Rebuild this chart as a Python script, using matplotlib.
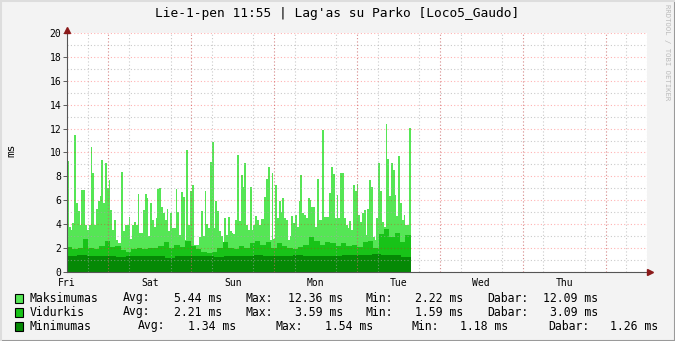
import numpy as np
import matplotlib.pyplot as plt
from matplotlib.patches import Rectangle
from matplotlib.lines import Line2D

# RRDtool-style latency graph
days = ['Fri', 'Sat', 'Sun', 'Mon', 'Tue', 'Wed', 'Thu']
data_days = 4.15  # samples run from Fri 00:00 to early Tue

# max latency (ms), one value per ~30 min sample
maks = [9.3, 3.8, 3.5, 4.1, 11.5, 5.75, 5.1, 3.9, 6.9, 6.9, 3.9, 3.5, 3.9, 10.5, 8.3, 3.9, 5.3,
        5.9, 6.4, 9.4, 5.75, 9.1, 7.0, 7.7, 5.2, 3.5, 4.35, 2.7, 2.4, 2.4, 8.4, 3.4, 3.9, 3.9,
        4.6, 2.8, 3.9, 4.15, 3.9, 6.5, 3.3, 3.3, 5.2, 6.5, 6.2, 3.0, 5.8, 4.35, 3.8, 4.5, 6.95,
        7.05, 5.4, 4.9, 4.35, 5.3, 3.4, 4.9, 3.65, 3.65, 6.95, 5.0, 3.1, 6.7, 6.3, 2.7, 10.2, 3.9,
        6.8, 7.3, 2.3, 2.22, 2.3, 2.9, 5.1, 3.0, 6.8, 4.0, 3.65, 9.2, 10.9, 3.65, 5.9, 5.1, 3.4,
        3.0, 2.5, 4.5, 3.1, 4.6, 3.4, 3.3, 3.15, 4.35, 9.8, 4.3, 8.1, 7.1, 9.1, 3.9, 3.5, 7.1, 3.5,
        3.9, 4.7, 4.35, 3.9, 4.4, 4.4, 6.3, 7.8, 8.8, 2.7, 8.3, 2.8, 7.3, 4.5, 5.9, 5.0, 6.2, 4.5,
        4.35, 2.7, 3.0, 4.7, 4.1, 4.8, 3.8, 5.9, 8.1, 4.9, 4.8, 4.55, 6.2, 6.0, 5.4, 5.4, 3.8, 7.8,
        4.35, 4.35, 11.9, 4.6, 4.6, 4.6, 6.6, 8.8, 8.2, 4.5, 6.45, 4.5, 8.3, 8.3, 4.55, 3.9, 3.65,
        4.3, 3.5, 7.3, 6.8, 7.35, 4.8, 4.2, 4.9, 5.2, 3.1, 5.3, 7.7, 7.1, 2.9, 2.7, 4.5, 9.1, 6.8,
        4.2, 3.8, 12.36, 9.45, 6.35, 9.1, 8.55, 6.45, 4.7, 9.7, 5.75, 4.35, 4.8, 3.9, 3.9, 12.09]

# average latency (coarser reading)
vidurkis = [2.1, 1.9, 2.0, 2.8, 2.0, 1.9, 2.2, 2.6, 2.1, 2.2, 1.8, 1.7,
            1.9, 2.0, 1.9, 2.0, 2.0, 2.2, 2.5, 2.0, 2.3, 2.1, 2.6, 2.2, 1.9,
            1.7, 1.59, 1.7, 2.0, 2.5, 2.0, 1.9, 2.2, 2.0, 2.4, 2.6, 2.3, 2.5,
            2.0, 2.4, 2.2, 2.0, 1.9, 2.1, 2.3, 2.9, 2.6, 2.3, 2.5, 2.4, 2.2, 2.4,
            2.2, 2.3, 2.1, 2.5, 2.6, 2.0, 3.2, 3.59, 2.9, 3.3, 2.5, 3.09]

# min latency (coarser reading)
minimumas = [1.35, 1.4, 1.35, 1.3, 1.3, 1.25, 1.3, 1.35, 1.3, 1.3, 1.18, 1.3, 1.35, 1.3,
             1.3, 1.25, 1.3, 1.3, 1.35, 1.4, 1.3, 1.35, 1.35, 1.4, 1.3, 1.35, 1.3, 1.35,
             1.4, 1.45, 1.4, 1.54, 1.45, 1.4, 1.26]

names = ['Maksimumas', 'Vidurkis', 'Minimumas']
colors = ['#55E655', '#18C318', '#058905']
stats = [['5.44', '12.36', '2.22', '12.09'],
         ['2.21', '3.59', '1.59', '3.09'],
         ['1.34', '1.54', '1.18', '1.26']]

W, H = 675, 341
mono = 'DejaVu Sans Mono'

fig = plt.figure(figsize=(W / 100, H / 100), dpi=100)
fig.patch.set_facecolor('#F3F3F3')
ax = fig.add_axes([67 / W, 69 / H, 580 / W, 239 / H])
ax.set_facecolor('white')


def draw_area(vals, color):
    vals = np.asarray(vals)
    edges = np.linspace(0, data_days, len(vals) + 1)
    ax.fill_between(edges, np.append(vals, vals[-1]), 0, step='post',
                    color=color, linewidth=0, zorder=1)


for vals, c in zip([maks, vidurkis, minimumas], colors):
    draw_area(vals, c)

ax.set_xlim(0, 7)
ax.set_ylim(0, 20)

# grids: grey every 6 h / 1 ms, red every 2 ms and at midday
ax.set_yticks(np.arange(0, 21, 2))
ax.set_yticks(np.arange(0, 21, 1), minor=True)
ax.set_xticks(np.arange(len(days)))
ax.set_xticklabels(days)
ax.set_xticks(np.arange(0, 7.01, 0.25), minor=True)
ax.set_axisbelow(False)
ax.grid(which='minor', color='#A8A8A8', alpha=0.6, linestyle=(0, (1, 2)), linewidth=0.8)
ax.grid(which='major', axis='y', color='#FF0000', alpha=0.3, linestyle=(0, (1, 2)), linewidth=0.8)
for d in range(len(days)):
    ax.axvline(d + 0.5, color='#FF0000', alpha=0.3, linestyle=(0, (1, 2)), linewidth=0.8, zorder=3)

ax.tick_params(which='both', length=0, labelsize=7)
ax.tick_params(axis='x', which='major', pad=4)
ax.tick_params(axis='y', which='major', length=3, width=0.6, color='#444444', pad=1)
for lab in ax.get_xticklabels() + ax.get_yticklabels():
    lab.set_fontfamily(mono)

for s in ['top', 'right']:
    ax.spines[s].set_visible(False)
for s in ['left', 'bottom']:
    ax.spines[s].set_color('#555555')
    ax.spines[s].set_linewidth(0.8)
    ax.spines[s].set_zorder(4)

# axis arrows
ax.plot(1.006, 0, marker='>', color='#8B1A1A', markersize=4, transform=ax.transAxes, clip_on=False, zorder=5)
ax.plot(0, 1.012, marker='^', color='#8B1A1A', markersize=4, transform=ax.transAxes, clip_on=False, zorder=5)

fig.text(11 / W, 1 - 150 / H, 'ms', rotation=90, ha='center', va='center', fontfamily=mono, fontsize=8)

fig.text(0.5, 1 - 13 / H, "Lie-1-pen 11:55 | Lag'as su Parko [Loco5_Gaudo]",
         ha='center', va='center', fontfamily=mono, fontsize=9.3)
fig.text(667 / W, 1 - 4 / H, 'RRDTOOL / TOBI OETIKER', rotation=270, ha='center', va='top',
         fontfamily=mono, fontsize=5.2, color='#BBBBBB')

# legend rows
rows_y = [298, 312, 326]
cols_a = [(123, 222), (245, 343), (365, 463), (487, 598)]
cols_b = [(138, 236), (275, 373), (412, 508), (548, 658)]
keys = ['Avg:', 'Max:', 'Min:', 'Dabar:']
for i, (name, c) in enumerate(zip(names, colors)):
    y = 1 - rows_y[i] / H
    fig.patches.append(Rectangle((15 / W, y - 4.5 / H), 8 / W, 9 / H, transform=fig.transFigure,
                                 facecolor=c, edgecolor='black', linewidth=0.8))
    fig.text(30 / W, y, name, ha='left', va='center', fontfamily=mono, fontsize=8.3)
    cols = cols_a if i < 2 else cols_b
    for k, (xl, xr), v in zip(keys, cols, stats[i]):
        fig.text(xl / W, y, k, ha='left', va='center', fontfamily=mono, fontsize=8.3)
        fig.text(xr / W, y, v + ' ms', ha='right', va='center', fontfamily=mono, fontsize=8.3)

# image frame
fig.add_artist(Line2D([0, 1], [0.5 / H, 0.5 / H], color='#9A9A9A', linewidth=1.5))
fig.add_artist(Line2D([1 - 0.5 / W, 1 - 0.5 / W], [0, 1], color='#9A9A9A', linewidth=1.5))
fig.add_artist(Line2D([0, 1], [1 - 0.5 / H, 1 - 0.5 / H], color='#DDDDDD', linewidth=1.5))
fig.add_artist(Line2D([0.5 / W, 0.5 / W], [0, 1], color='#DDDDDD', linewidth=1.5))

fig.savefig('out.png', dpi=100, facecolor=fig.get_facecolor())
